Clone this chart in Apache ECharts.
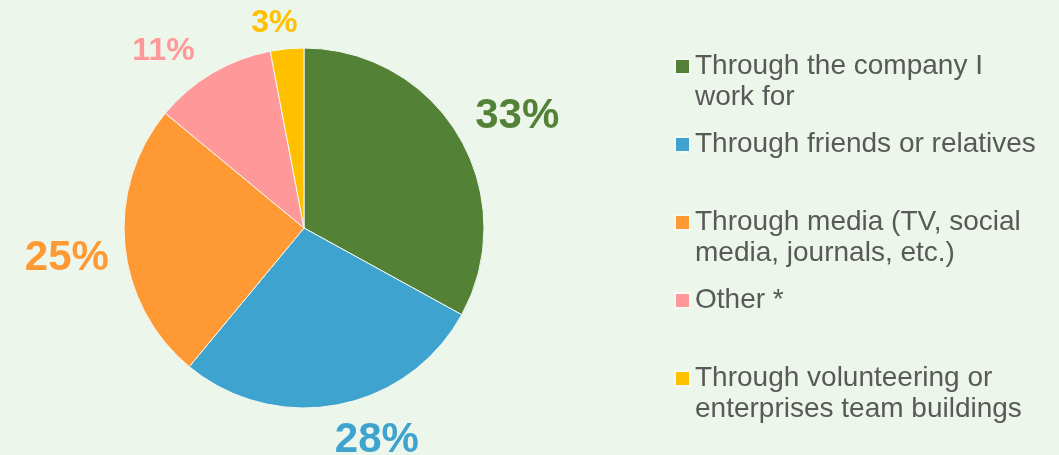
<!DOCTYPE html>
<html>
<head>
<meta charset="utf-8">
<script src="https://cdn.jsdelivr.net/npm/echarts@6/dist/echarts.min.js"></script>
<style>
  html, body { margin: 0; padding: 0; background: #EDF6EA; }
  #chart { width: 1059px; height: 455px; }
</style>
</head>
<body>
<div id="chart"></div>
<script>
const categories = [
  'Through the company I work for',
  'Through friends or relatives',
  'Through media (TV, social media, journals, etc.)',
  'Other *',
  'Through volunteering or enterprises team buildings'
];
const legendLabels = [
  ['Through the company I', 'work for'],
  ['Through friends or relatives'],
  ['Through media (TV, social', 'media, journals, etc.)'],
  ['Other *'],
  ['Through volunteering or', 'enterprises team buildings']
];
const values = [33, 28, 25, 11, 3];
const colors = ['#538135', '#3FA3CF', '#FF9933', '#FF9999', '#FFC000'];

const labelSizes = [42, 42, 42, 32, 32];
const labelOffsets = [[-7, -6], [-8, 9], [11, 11], [-4, 1], [13, 1]];

const chart = echarts.init(document.getElementById('chart'));
const labelMap = {};
categories.forEach((c, i) => {
  const lines = legendLabels[i];
  // a leading blank line keeps the icon level with the first text line
  labelMap[c] = lines.length > 1 ? ' \n' + lines.join('\n') : lines[0];
});

chart.setOption({
  backgroundColor: '#EDF6EA',
  animation: false,
  legend: {
    orient: 'vertical',
    left: 669,
    top: 15,
    itemWidth: 15,
    itemHeight: 15,
    itemGap: 16,
    icon: 'rect',
    data: categories,
    formatter: name => labelMap[name],
    textStyle: {
      fontFamily: 'Liberation Sans, Arial, sans-serif',
      fontSize: 28,
      lineHeight: 31,
      color: '#595959'
    }
  },
  series: [{
    type: 'pie',
    center: [304, 228],
    radius: 180,
    startAngle: 90,
    clockwise: true,
    avoidLabelOverlap: false,
    itemStyle: { borderColor: '#F4F9F2', borderWidth: 1 },
    label: {
      show: true,
      position: 'outside',
      formatter: '{c}%',
      fontFamily: 'Liberation Sans, Arial, sans-serif',
      fontWeight: 'bold',
      distanceToLabelLine: 0
    },
    labelLine: { show: false, length: 27, length2: 0 },
    labelLayout: p => ({ dx: labelOffsets[p.dataIndex][0], dy: labelOffsets[p.dataIndex][1] }),
    data: categories.map((c, i) => ({
      name: c,
      value: values[i],
      itemStyle: { color: colors[i] },
      label: { color: colors[i], fontSize: labelSizes[i] }
    }))
  }]
});
</script>
</body>
</html>
